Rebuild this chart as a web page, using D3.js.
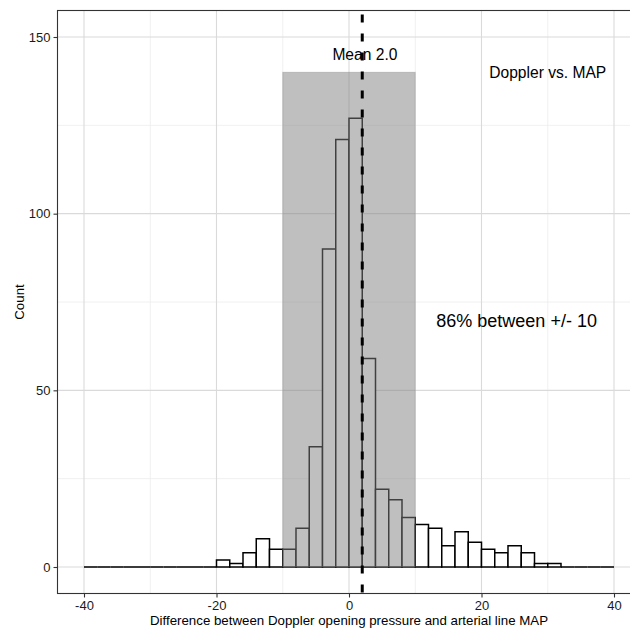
<!DOCTYPE html>
<html>
<head>
<meta charset="utf-8">
<script src="https://cdn.jsdelivr.net/npm/d3@7"></script>
<style>
  html, body { margin: 0; padding: 0; background: #fff; }
  svg { display: block; font-family: "Liberation Sans", Arial, sans-serif; }
</style>
</head>
<body>
<svg id="chart" width="630" height="629"></svg>
<script>
// Histogram bins (width 2) from -40 to 40
const binStart = -40;
const binWidth = 2;
const counts = [
  0, 0, 0, 0, 0, 0, 0, 0, 0, 0,          // -40 .. -20
  2, 1, 4, 8, 5, 5, 11, 34, 90, 121,     // -20 .. 0
  127, 59, 22, 19, 14, 12, 11, 6, 10, 7, // 0 .. 20
  5, 4, 6, 4, 1, 1,                      // 20 .. 32
  0, 0, 0, 0                             // 32 .. 40
];
const xTicks = [-40, -20, 0, 20, 40];
const xMinor = [-30, -10, 10, 30];
const yTicks = [0, 50, 100, 150];
const yMinor = [25, 75, 125];
const meanValue = 2.0;
const bandRange = [-10, 10];
const bandTop = 140;
const labelTexts = ["Mean 2.0", "Doppler vs. MAP", "86% between +/- 10"];
const labelX = [2.4, 30, 25.3];
const labelY = [145, 140, 69.5];
const xTitle = "Difference between Doppler opening pressure and arterial line MAP";
const yTitle = "Count";

(function () {
const bins = counts.map((c, i) => ({ x0: binStart + i * binWidth, x1: binStart + (i + 1) * binWidth, count: c }));
const labelSizes = [15.6, 15.6, 18];

const svg = d3.select("#chart");
const pL = 57.5, pR = 640.5, pT = 10.5, pB = 593.5;
const x = d3.scaleLinear().domain([-44, 44]).range([pL, pR]);
const y = d3.scaleLinear().domain([-7.5, 157.5]).range([pB, pT]);

svg.append("defs").append("clipPath").attr("id", "panelclip")
  .append("rect").attr("x", pL).attr("y", pT).attr("width", pR - pL).attr("height", pB - pT);

const panel = svg.append("g").attr("clip-path", "url(#panelclip)");

// minor grid
panel.selectAll(".gxm").data(xMinor).enter().append("line")
  .attr("x1", d => x(d)).attr("x2", d => x(d)).attr("y1", pT).attr("y2", pB)
  .attr("stroke", "#ececec").attr("stroke-width", 0.8);
panel.selectAll(".gym").data(yMinor).enter().append("line")
  .attr("y1", d => y(d)).attr("y2", d => y(d)).attr("x1", pL).attr("x2", pR)
  .attr("stroke", "#ececec").attr("stroke-width", 0.8);
// major grid
panel.selectAll(".gx").data(xTicks).enter().append("line")
  .attr("x1", d => x(d)).attr("x2", d => x(d)).attr("y1", pT).attr("y2", pB)
  .attr("stroke", "#dadada").attr("stroke-width", 1.1);
panel.selectAll(".gy").data(yTicks).enter().append("line")
  .attr("y1", d => y(d)).attr("y2", d => y(d)).attr("x1", pL).attr("x2", pR)
  .attr("stroke", "#dadada").attr("stroke-width", 1.1);

// bars (paths so zero-height bins still draw as a line)
panel.selectAll(".bar").data(bins).enter().append("path")
  .attr("d", d => {
    const xa = x(d.x0), xb = x(d.x1), y0 = y(0), y1 = y(d.count);
    return `M${xa},${y0}V${y1}H${xb}V${y0}Z`;
  })
  .attr("fill", "#ffffff").attr("stroke", "#000").attr("stroke-width", 1.5);

// shaded band
panel.append("rect")
  .attr("x", x(bandRange[0])).attr("width", x(bandRange[1]) - x(bandRange[0]))
  .attr("y", y(bandTop)).attr("height", y(0) - y(bandTop))
  .attr("fill", "#7f7f7f").attr("fill-opacity", 0.5)
  .attr("stroke", "#7f7f7f").attr("stroke-opacity", 0.35).attr("stroke-width", 1);

// mean line
panel.append("line")
  .attr("x1", x(meanValue)).attr("x2", x(meanValue)).attr("y1", pT).attr("y2", pB)
  .attr("stroke", "#000").attr("stroke-width", 3).attr("stroke-dasharray", "8,11")
  .attr("stroke-dashoffset", -4);

// text labels
panel.selectAll(".lab").data(labelTexts).enter().append("text")
  .attr("x", (d, i) => x(labelX[i])).attr("y", (d, i) => y(labelY[i]))
  .attr("text-anchor", "middle").attr("dominant-baseline", "central")
  .attr("font-size", (d, i) => labelSizes[i]).attr("fill", "#000").text(d => d);

// panel border
svg.append("rect").attr("x", pL).attr("y", pT).attr("width", pR - pL).attr("height", pB - pT)
  .attr("fill", "none").attr("stroke", "#333").attr("stroke-width", 1.1);

// axes
const xAxis = d3.axisBottom(x).tickValues(xTicks).tickSize(4).tickPadding(3).tickFormat(d3.format("d"));
const gx = svg.append("g").attr("transform", `translate(0,${pB})`).call(xAxis);
gx.select(".domain").remove();
gx.selectAll(".tick line").attr("stroke", "#333").attr("stroke-width", 1.1);
gx.selectAll(".tick text").attr("font-size", 13).attr("fill", "#1a1a1a")
  .attr("font-family", "Liberation Sans, Arial, sans-serif").text(d => d < 0 ? "-" + Math.abs(d) : d);

const yAxis = d3.axisLeft(y).tickValues(yTicks).tickSize(4).tickPadding(3);
const gy = svg.append("g").attr("transform", `translate(${pL},0)`).call(yAxis);
gy.select(".domain").remove();
gy.selectAll(".tick line").attr("stroke", "#333").attr("stroke-width", 1.1);
gy.selectAll(".tick text").attr("font-size", 13).attr("fill", "#1a1a1a")
  .attr("font-family", "Liberation Sans, Arial, sans-serif");

// axis titles
svg.append("text").attr("x", x(0)).attr("y", 625)
  .attr("text-anchor", "middle").attr("font-size", 13.3).attr("fill", "#000").text(xTitle);
svg.append("text").attr("transform", `translate(24,${(pT + pB) / 2}) rotate(-90)`)
  .attr("text-anchor", "middle").attr("font-size", 13.3).attr("fill", "#000").text(yTitle);
})();
</script>
</body>
</html>
